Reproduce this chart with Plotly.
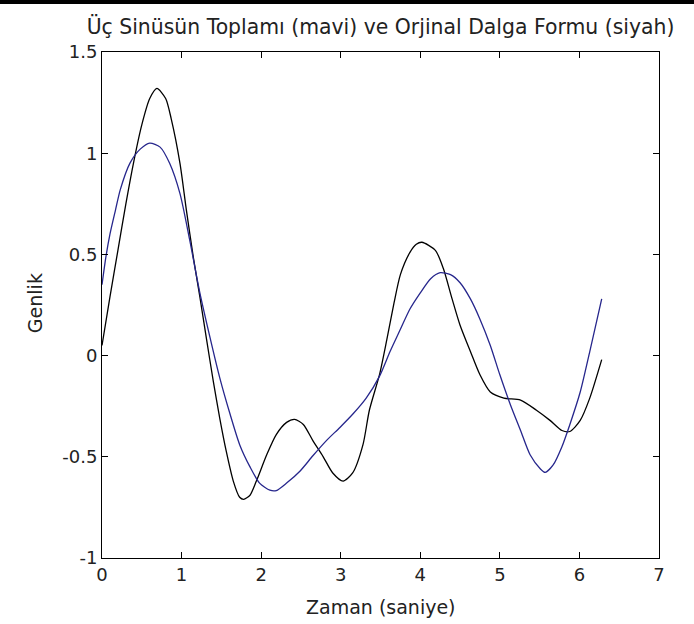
import plotly.graph_objects as go

# orijinal dalga formu (siyah)
orig_t = [0.00, 0.10, 0.20, 0.30, 0.40, 0.50, 0.60, 0.69, 0.80, 0.87, 0.98, 1.06, 1.15, 1.23,
          1.31, 1.40, 1.48, 1.56, 1.65, 1.73, 1.78, 1.86, 1.94, 2.07, 2.19, 2.32, 2.42, 2.53,
          2.65, 2.78, 2.90, 3.03, 3.15, 3.28, 3.36, 3.49, 3.58, 3.67, 3.75, 3.87, 3.95, 4.02, 4.19,
          4.29, 4.40, 4.50, 4.63, 4.75, 4.88, 5.05, 5.26, 5.46, 5.63, 5.78, 5.88, 6.01, 6.13, 6.28]
orig_y = [0.05, 0.29, 0.52, 0.75, 0.96, 1.14, 1.27, 1.32, 1.27, 1.17, 0.95, 0.72, 0.48, 0.29,
          0.09, -0.13, -0.31, -0.47, -0.62, -0.70, -0.71, -0.69, -0.62, -0.49, -0.39, -0.33, -0.315, -0.34,
          -0.42, -0.50, -0.58, -0.62, -0.58, -0.44, -0.27, -0.09, 0.08, 0.26, 0.40, 0.51, 0.55, 0.56, 0.52,
          0.43, 0.28, 0.15, 0.02, -0.095, -0.18, -0.21, -0.22, -0.27, -0.32, -0.37, -0.375, -0.32, -0.21, -0.02]

# üç sinüsün toplamı (mavi)
sum_t = [0.00, 0.05, 0.10, 0.17, 0.23, 0.35, 0.48, 0.60, 0.73, 0.85, 0.98, 1.10, 1.23, 1.36, 1.48, 1.61,
         1.73, 1.86, 1.98, 2.11, 2.19, 2.32, 2.49, 2.65, 2.82, 2.99, 3.15, 3.32, 3.49, 3.62,
         3.75, 3.87, 4.00, 4.13, 4.25, 4.38, 4.50, 4.63, 4.75, 4.88, 5.00, 5.13, 5.26, 5.38,
         5.51, 5.57, 5.67, 5.78, 5.88, 6.01, 6.13, 6.28]
sum_y = [0.35, 0.49, 0.60, 0.72, 0.82, 0.95, 1.02, 1.05, 1.03, 0.95, 0.80, 0.575, 0.31, 0.085, -0.11, -0.29,
         -0.44, -0.55, -0.63, -0.665, -0.667, -0.63, -0.57, -0.495, -0.42, -0.355, -0.29, -0.21, -0.10, 0.02,
         0.13, 0.23, 0.31, 0.38, 0.41, 0.40, 0.36, 0.28, 0.18, 0.05, -0.095, -0.24, -0.37, -0.49,
         -0.56, -0.577, -0.54, -0.45, -0.34, -0.18, 0.02, 0.28]

x_ticks = [0, 1, 2, 3, 4, 5, 6, 7]
y_ticks = [-1, -0.5, 0, 0.5, 1, 1.5]
y_tick_labels = ["-1", "-0.5", "0", "0.5", "1", "1.5"]

font = "DejaVu Sans"

fig = go.Figure()
fig.add_trace(go.Scatter(x=orig_t, y=orig_y, mode="lines", line_shape="spline",
                         line=dict(color="#000000", width=1.3, smoothing=0.7)))
fig.add_trace(go.Scatter(x=sum_t, y=sum_y, mode="lines", line_shape="spline",
                         line=dict(color="#26268c", width=1.3, smoothing=0.7)))

axis_style = dict(showgrid=False, zeroline=False, showline=True, linecolor="black",
                  linewidth=1, mirror="ticks", ticks="inside", ticklen=6,
                  tickcolor="black", tickfont=dict(family=font, size=18, color="#222222"))

fig.update_xaxes(range=[0, 7], tickvals=x_ticks, **axis_style)
fig.update_yaxes(range=[-1, 1.5], tickvals=y_ticks, ticktext=y_tick_labels, **axis_style)

fig.update_layout(
    width=694, height=624,
    margin=dict(l=102, r=35, t=52, b=66, autoexpand=False),
    paper_bgcolor="white", plot_bgcolor="white",
    showlegend=False,
    title=dict(text="Üç Sinüsün Toplamı (mavi) ve Orjinal Dalga Formu (siyah)",
               x=0.5, xref="paper", y=1 - 27 / 624, yref="container", yanchor="middle",
               font=dict(family=font, size=20.4, color="#222222")),
    annotations=[
        dict(text="Zaman (saniye)", x=0.5, y=-0.097, xref="paper", yref="paper",
             showarrow=False, yanchor="middle", font=dict(family=font, size=19, color="#222222")),
        dict(text="Genlik", x=-0.12, y=0.504, xref="paper", yref="paper", textangle=-90,
             showarrow=False, xanchor="center", font=dict(family=font, size=19, color="#222222")),
    ],
    shapes=[dict(type="rect", xref="paper", yref="paper", x0=-0.25, x1=1.1,
                 y0=1.0949, y1=1.11, fillcolor="black", line_width=0, layer="above")],
)

# page body has an 8px default margin; drop it so the figure sits at the corner
fig.write_html("out.html", config={"displayModeBar": False},
               post_script="document.body.style.margin = '0';")
